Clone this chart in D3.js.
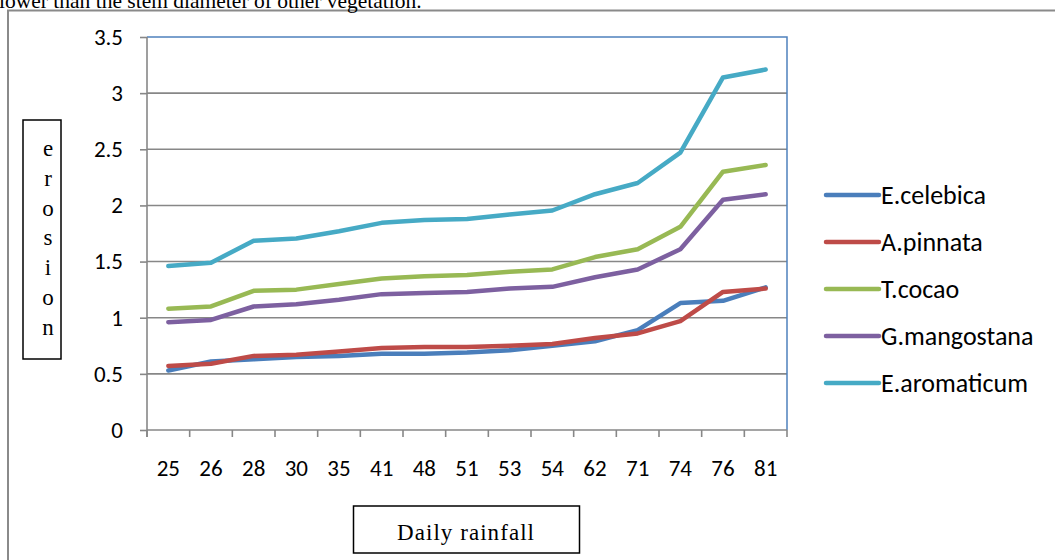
<!DOCTYPE html>
<html>
<head>
<meta charset="utf-8">
<script src="https://cdn.jsdelivr.net/npm/d3@7"></script>
<style>
  html, body { margin: 0; padding: 0; background: #fff; overflow: hidden; }
  svg { display: block; }
</style>
</head>
<body>
<svg id="chart" width="1055" height="560"></svg>
<script>
// ---- data ----
const categories = ["25","26","28","30","35","41","48","51","53","54","62","71","74","76","81"];
const eCelebica   = [0.53,0.61,0.63,0.65,0.66,0.68,0.68,0.69,0.71,0.75,0.79,0.89,1.13,1.15,1.27];
const aPinnata    = [0.57,0.59,0.66,0.67,0.70,0.73,0.74,0.74,0.75,0.765,0.82,0.86,0.97,1.23,1.26];
const tCocao      = [1.08,1.10,1.24,1.25,1.30,1.35,1.37,1.38,1.41,1.43,1.54,1.61,1.81,2.30,2.36];
const gMangostana = [0.96,0.98,1.10,1.12,1.16,1.21,1.22,1.23,1.26,1.275,1.36,1.43,1.61,2.05,2.10];
const eAromaticum = [1.46,1.49,1.685,1.705,1.77,1.845,1.87,1.88,1.92,1.955,2.10,2.20,2.47,3.14,3.21];
const seriesNames = ["E.celebica","A.pinnata","T.cocao","G.mangostana","E.aromaticum"];
const yTicks = [0,0.5,1,1.5,2,2.5,3,3.5];
const yLabelText = "erosion";
const xLabelText = "Daily rainfall";
const topText = "lower than the stem diameter of other vegetation.";

const seriesValues = [eCelebica, aPinnata, tCocao, gMangostana, eAromaticum];
const colors = ["#4A7EBB","#BE4B48","#98B954","#7D60A0","#46AAC5"];

const svg = d3.select("#chart");
const numFont = "Carlito, Calibri, Lato, sans-serif";
const serif = "'Liberation Serif', 'Times New Roman', serif";

// plot geometry
const L = 147, R = 787, T = 37, B = 430;

const x = d3.scaleBand().domain(categories).range([L, R]).padding(0);
const y = d3.scaleLinear().domain([0, 3.5]).range([B, T]);

// outer frame
svg.append("path")
  .attr("d", `M8,570 L8,10.5 L1070,10.5`)
  .attr("fill", "none").attr("stroke", "#8a8a8a").attr("stroke-width", 2);

// top text (partly cut off at the top edge, as in the source page)
svg.append("text").attr("x", -1).attr("y", 8)
  .attr("font-family", serif).attr("font-size", 21.5).attr("fill", "#000")
  .text(topText);

// gridlines
svg.append("g").selectAll("line").data(yTicks.filter(d => d > 0 && d < 3.5)).join("line")
  .attr("x1", L).attr("x2", R).attr("y1", d => y(d)).attr("y2", d => y(d))
  .attr("stroke", "#878787").attr("stroke-width", 1.6);

// plot area border (top & right) blue
svg.append("path")
  .attr("d", `M${L},${y(3.5)} L${R},${y(3.5)} L${R},${B}`)
  .attr("fill", "none").attr("stroke", "#4F81BD").attr("stroke-width", 1.5);

// y axis
const yAxis = d3.axisLeft(y).tickValues(yTicks).tickSize(7).tickPadding(17)
  .tickFormat(d => d3.format("")(d));
const gy = svg.append("g").attr("transform", `translate(${L},0)`).call(yAxis);
gy.select(".domain").remove();
gy.append("line").attr("x1", 0).attr("x2", 0).attr("y1", T).attr("y2", B + 7)
  .attr("stroke", "#878787").attr("stroke-width", 1.6);
gy.selectAll(".tick line").attr("stroke", "#878787").attr("stroke-width", 1.6);
gy.selectAll(".tick text").attr("font-family", numFont).attr("font-size", 23).attr("fill", "#000");

// x axis
const xAxis = d3.axisBottom(x).tickSize(0).tickPadding(30);
const gx = svg.append("g").attr("transform", `translate(0,${B})`).call(xAxis);
gx.select(".domain").remove();
gx.append("line").attr("x1", L).attr("x2", R).attr("y1", 0).attr("y2", 0)
  .attr("stroke", "#878787").attr("stroke-width", 1.6);
const bounds = categories.map(c => x(c)).concat([R]);
gx.selectAll("line.bt").data(bounds).join("line").attr("class", "bt")
  .attr("x1", d => d).attr("x2", d => d).attr("y1", 0).attr("y2", 7)
  .attr("stroke", "#878787").attr("stroke-width", 1.6);
gx.selectAll(".tick text").attr("font-family", numFont).attr("font-size", 23).attr("fill", "#000");

// lines
const line = d3.line()
  .x((d, i) => x(categories[i]) + x.bandwidth() / 2)
  .y(d => y(d));
svg.append("g").selectAll("path").data(seriesValues).join("path")
  .attr("d", d => line(d))
  .attr("fill", "none")
  .attr("stroke", (d, i) => colors[i])
  .attr("stroke-width", 4.5)
  .attr("stroke-linejoin", "round")
  .attr("stroke-linecap", "round");

// legend
const leg = svg.append("g");
const legRows = leg.selectAll("g").data(seriesNames).join("g")
  .attr("transform", (d, i) => `translate(826,${195 + i * 47})`);
legRows.append("line").attr("x1", 0).attr("x2", 53).attr("y1", 0).attr("y2", 0)
  .attr("stroke", (d, i) => colors[i]).attr("stroke-width", 4.5).attr("stroke-linecap", "round");
legRows.append("text").attr("x", 55).attr("y", 0).attr("dy", "0.35em")
  .attr("font-family", numFont).attr("font-size", 26).attr("fill", "#000")
  .text(d => d);

// y-label box with stacked letters
svg.append("rect").attr("x", 23).attr("y", 120).attr("width", 38).attr("height", 239)
  .attr("fill", "#fff").attr("stroke", "#000").attr("stroke-width", 1.5);
svg.append("g").selectAll("text").data(yLabelText.split("")).join("text")
  .attr("x", 48).attr("y", (d, i) => 148 + i * 29.8).attr("dy", "0.35em")
  .attr("text-anchor", "middle")
  .attr("font-family", serif).attr("font-size", 23).attr("fill", "#000")
  .text(d => d);

// clipped hidden rotated text artifact beside the box
svg.append("clipPath").attr("id", "artclip").append("rect")
  .attr("x", 61.5).attr("y", 200).attr("width", 5).attr("height", 70);
svg.append("text")
  .attr("clip-path", "url(#artclip)")
  .attr("transform", "translate(59,233) rotate(-90)")
  .attr("text-anchor", "middle").attr("dy", "0.35em")
  .attr("font-family", serif).attr("font-weight", "bold").attr("font-size", 18).attr("fill", "#000")
  .text("Soil");

// x-label box
svg.append("rect").attr("x", 353.5).attr("y", 506).attr("width", 226).attr("height", 47)
  .attr("fill", "#fff").attr("stroke", "#000").attr("stroke-width", 1.5);
svg.append("text").attr("x", 397).attr("y", 532).attr("dy", "0.35em")
  .attr("font-family", serif).attr("font-size", 23).attr("fill", "#000")
  .attr("textLength", 137).attr("lengthAdjust", "spacing")
  .text(xLabelText);
</script>
</body>
</html>
